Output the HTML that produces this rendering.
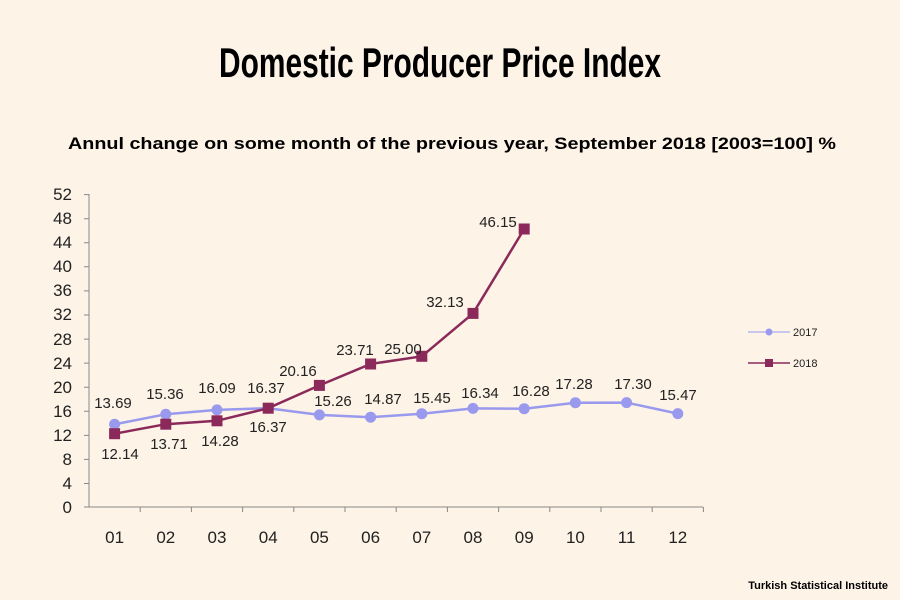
<!DOCTYPE html>
<html><head><meta charset="utf-8"><style>
html,body{margin:0;padding:0;background:#fdf3e7;}
svg{display:block;font-family:"Liberation Sans",Arial,sans-serif;}
</style></head><body>
<svg width="900" height="600" viewBox="0 0 900 600" xmlns="http://www.w3.org/2000/svg">
<rect width="900" height="600" fill="#fdf3e7"/>
<text x="440" y="77" text-anchor="middle" font-size="42" font-weight="bold" textLength="442" lengthAdjust="spacingAndGlyphs" fill="#000">Domestic Producer Price Index</text>
<text x="452" y="149" text-anchor="middle" font-size="17" font-weight="bold" textLength="768" lengthAdjust="spacingAndGlyphs" fill="#000">Annul change on some month of the previous year, September 2018 [2003=100] %</text>
<g stroke="#888" stroke-width="1" fill="none">
<line x1="89" y1="194" x2="89" y2="507"/>
<line x1="89" y1="507" x2="703" y2="507"/>
<path d="M84 194.6h5M84 218.7h5M84 242.8h5M84 266.8h5M84 290.9h5M84 315h5M84 339.1h5M84 363.1h5M84 387.2h5M84 411.3h5M84 435.4h5M84 459.4h5M84 483.5h5M84 507h5"/>
<path d="M140.2 507v5M191.4 507v5M242.6 507v5M293.8 507v5M345 507v5M396.2 507v5M447.4 507v5M498.6 507v5M549.8 507v5M601 507v5M652.2 507v5M703.4 507v5"/>
</g>
<g font-size="17" text-anchor="end" fill="#222">
<text x="72" y="200">52</text><text x="72" y="224">48</text><text x="72" y="248">44</text><text x="72" y="272">40</text><text x="72" y="296">36</text><text x="72" y="320">32</text><text x="72" y="345">28</text><text x="72" y="369">24</text><text x="72" y="393">20</text><text x="72" y="417">16</text><text x="72" y="441">12</text><text x="72" y="465">8</text><text x="72" y="489">4</text><text x="72" y="513">0</text>
</g>
<g font-size="17" text-anchor="middle" fill="#222">
<text x="114.6" y="543">01</text><text x="165.8" y="543">02</text><text x="217" y="543">03</text><text x="268.2" y="543">04</text><text x="319.4" y="543">05</text><text x="370.6" y="543">06</text><text x="421.8" y="543">07</text><text x="473" y="543">08</text><text x="524.2" y="543">09</text><text x="575.4" y="543">10</text><text x="626.6" y="543">11</text><text x="677.8" y="543">12</text>
</g>
<polyline fill="none" stroke="#9999ee" stroke-width="2.5" points="114.6,424.3 165.8,414.3 217,409.9 268.2,408.2 319.4,414.9 370.6,417.2 421.8,413.7 473,408.4 524.2,408.7 575.4,402.7 626.6,402.6 677.8,413.6"/>
<g fill="#9999ee">
<circle cx="114.6" cy="424.3" r="5.5"/><circle cx="165.8" cy="414.3" r="5.5"/><circle cx="217" cy="409.9" r="5.5"/><circle cx="268.2" cy="408.2" r="5.5"/><circle cx="319.4" cy="414.9" r="5.5"/><circle cx="370.6" cy="417.2" r="5.5"/><circle cx="421.8" cy="413.7" r="5.5"/><circle cx="473" cy="408.4" r="5.5"/><circle cx="524.2" cy="408.7" r="5.5"/><circle cx="575.4" cy="402.7" r="5.5"/><circle cx="626.6" cy="402.6" r="5.5"/><circle cx="677.8" cy="413.6" r="5.5"/>
</g>
<polyline fill="none" stroke="#8b2a5a" stroke-width="2.5" points="114.6,433.7 165.8,424.2 217,420.8 268.2,408.2 319.4,385.4 370.6,364 421.8,356.3 473,313.4 524.2,229"/>
<g fill="#8b2a5a">
<rect x="109.1" y="428.2" width="11" height="11"/><rect x="160.3" y="418.7" width="11" height="11"/><rect x="211.5" y="415.3" width="11" height="11"/><rect x="262.7" y="402.7" width="11" height="11"/><rect x="313.9" y="379.9" width="11" height="11"/><rect x="365.1" y="358.5" width="11" height="11"/><rect x="416.3" y="350.8" width="11" height="11"/><rect x="467.5" y="307.9" width="11" height="11"/><rect x="518.7" y="223.5" width="11" height="11"/>
</g>
<g font-size="15" text-anchor="middle" fill="#222">
<text x="113" y="408">13.69</text><text x="165" y="399">15.36</text><text x="217" y="393">16.09</text><text x="266" y="393">16.37</text>
<text x="333" y="406">15.26</text><text x="383" y="404">14.87</text><text x="432" y="403">15.45</text><text x="480" y="398">16.34</text><text x="531" y="396">16.28</text><text x="574" y="389">17.28</text><text x="633" y="389">17.30</text><text x="678" y="400">15.47</text>
<text x="120" y="459">12.14</text><text x="169" y="449">13.71</text><text x="220" y="446">14.28</text><text x="268" y="432">16.37</text>
<text x="298" y="376">20.16</text><text x="355" y="355">23.71</text><text x="403" y="354">25.00</text><text x="445" y="307">32.13</text><text x="498" y="227">46.15</text>
</g>
<line x1="748" y1="332" x2="790" y2="332" stroke="#b8b8f0" stroke-width="1.5"/>
<circle cx="769" cy="332" r="3.5" fill="#9999ee"/>
<text x="793" y="336" font-size="11" fill="#222">2017</text>
<line x1="748" y1="363" x2="790" y2="363" stroke="#8b2a5a" stroke-width="1.5"/>
<rect x="765" y="359" width="8" height="8" fill="#8b2a5a"/>
<text x="793" y="367" font-size="11" fill="#222">2018</text>
<text x="888" y="589" text-anchor="end" font-size="11" font-weight="bold" fill="#000">Turkish Statistical Institute</text>
</svg>
</body></html>
